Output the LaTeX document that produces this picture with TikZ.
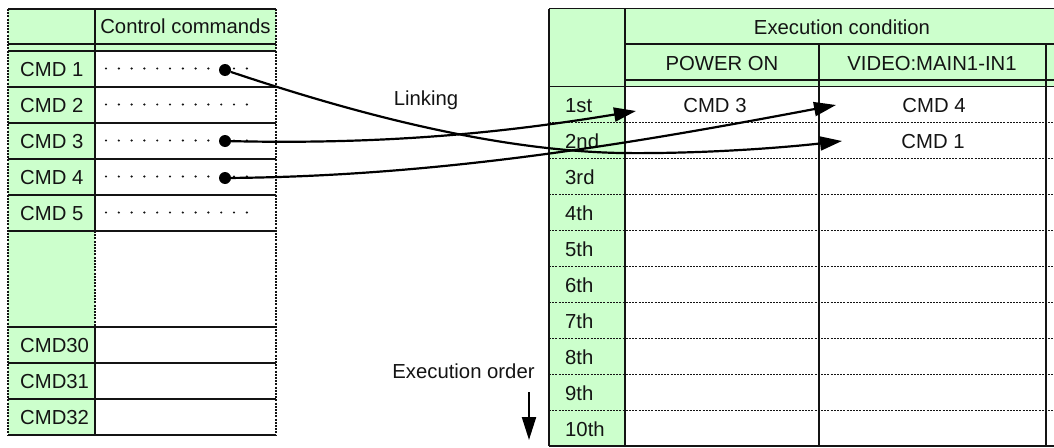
\documentclass[tikz,border=0pt]{standalone}
\usepackage{fontspec}
\setmainfont{Liberation Sans}
\usetikzlibrary{arrows.meta}
\definecolor{cellgreen}{HTML}{CCFFCC}
\definecolor{ink}{HTML}{141414}
\begin{document}
\begin{tikzpicture}[x=1pt,y=-1pt,
  txt/.style={font=\fontsize{20.3}{24}\selectfont, inner sep=0pt, anchor=base, text=ink},
  ltxt/.style={txt, anchor=base west},
  solidline/.style={line width=1.7pt, draw=ink},
  thinline/.style={line width=1.2pt, draw=ink},
  dotline/.style={line width=1.3pt, draw=ink, dash pattern=on 2pt off 1.2pt},
  link/.style={line width=2.2pt, draw=black, -{Triangle[length=22pt,width=14pt]}},
  dotsm/.style={circle, fill=ink, inner sep=0pt, minimum size=2.4pt},
  knob/.style={circle, fill=black, inner sep=0pt, minimum size=12pt}]
\useasboundingbox (0,0) rectangle (1054,447);
\fill[white] (0,0) rectangle (1054,447);

% ---------------- left table ----------------
\fill[cellgreen] (8,9) rectangle (95,435);
\fill[cellgreen] (95,9) rectangle (276,51);
\foreach \y in {9,44,51,87,123,159,195,231,327,363,399,435}
  \draw[solidline] (8,\y) -- (276,\y);
\draw[dotline] (8,9) -- (8,435);
\draw[dotline] (276,9) -- (276,435);
\draw[thinline] (95,9) -- (95,231);
\draw[dotline] (95,231) -- (95,327);
\draw[thinline] (95,327) -- (95,435);

\node[txt] (cchead) at (185.5,33) {Control commands};
\node[ltxt] (cmd1) at (20,76.5) {CMD 1};
\node[ltxt] (cmd2) at (20,112.5) {CMD 2};
\node[ltxt] (cmd3) at (20,148.5) {CMD 3};
\node[ltxt] (cmd4) at (20,184.5) {CMD 4};
\node[ltxt] (cmd5) at (20,220.5) {CMD 5};
\node[ltxt] (cmd30) at (20,352.5) {CMD30};
\node[ltxt] (cmd31) at (20,388.5) {CMD31};
\node[ltxt] (cmd32) at (20,424.5) {CMD32};

\foreach \r in {51,87,123,159,195}
  \foreach \i in {0,...,11}
    \node[dotsm] at ({106+12.8*\i},{\r+17.5}) {};

\node[knob] (k1) at (225,70) {};
\node[knob] (k3) at (225,141) {};
\node[knob] (k4) at (225,178) {};

% ---------------- right table ----------------
\fill[cellgreen] (549,8.5) rectangle (625,446);
\fill[cellgreen] (625,8.5) rectangle (1054,86.5);
\draw[solidline] (549,8.5) -- (1054,8.5);
\draw[thinline] (625,44) -- (1054,44);
\draw[thinline] (625,80) -- (1054,80);
\draw[solidline] (549,86.5) -- (1054,86.5);
\foreach \y in {122.5,158.5,194.5,230.5,266.5,302.5,338.5,374.5,410.5}
  \draw[dotline] (549,\y) -- (1054,\y);
\draw[solidline] (549,446) -- (1054,446);
\draw[solidline] (549,8.5) -- (549,446);
\draw[solidline] (625,8.5) -- (625,446);
\draw[solidline] (819,44) -- (819,446);
\draw[solidline] (1046,44) -- (1046,446);

\node[txt] (exhead) at (842,34) {Execution condition};
\node[txt] (pwr) at (722,70.5) {POWER ON};
\node[txt] (vid) at (932,70.5) {VIDEO:MAIN1-IN1};

\node[ltxt] (o1) at (565,112) {1st};
\node[ltxt] (o2) at (565,148) {2nd};
\node[ltxt] (o3) at (565,184) {3rd};
\node[ltxt] (o4) at (565,220) {4th};
\node[ltxt] (o5) at (565,256) {5th};
\node[ltxt] (o6) at (565,292) {6th};
\node[ltxt] (o7) at (565,328) {7th};
\node[ltxt] (o8) at (565,364) {8th};
\node[ltxt] (o9) at (565,400) {9th};
\node[ltxt] (o10) at (565,436) {10th};

\node[txt] (c3) at (715,112) {CMD 3};
\node[txt] (c4) at (934,112) {CMD 4};
\node[txt] (c1) at (933,148) {CMD 1};

% ---------------- labels and links ----------------
\node[txt] (linking) at (426,105) {Linking};
\node[txt] (exorder) at (463.5,378) {Execution order};
\coordinate (ordtop) at (529,392);
\coordinate (ordbot) at (529,440);
\draw[line width=2.2pt, -{Triangle[length=23pt,width=14pt]}] (ordtop) -- (ordbot);

\coordinate (t1) at (842,141);
\coordinate (t3) at (636,111);
\coordinate (t4) at (836,105);
\draw[link] (k1) .. controls (330,105) and (480,150) .. (620,153)
                 .. controls (700,154) and (780,148) .. (t1);
\draw[link] (k3) .. controls (400,145) and (520,130) .. (t3);
\draw[link] (k4) .. controls (450,176) and (650,140) .. (t4);
\end{tikzpicture}
\end{document}
